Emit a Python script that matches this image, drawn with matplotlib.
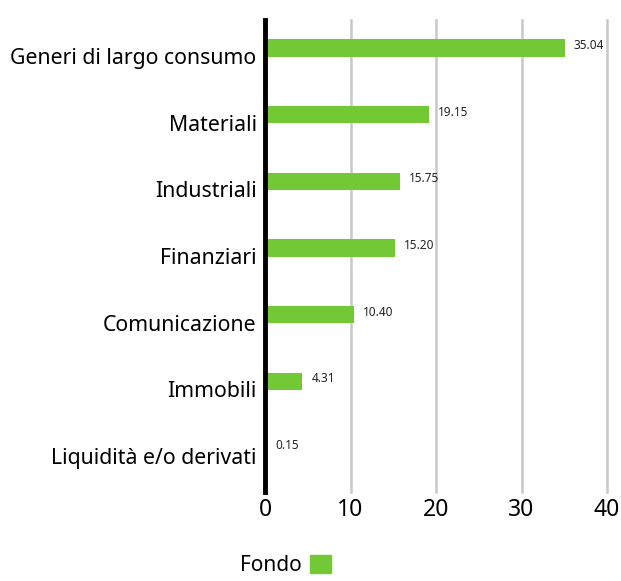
import matplotlib
matplotlib.use("Agg")
import matplotlib.pyplot as plt
from matplotlib.patches import Patch

categories = ["Generi di largo consumo", "Materiali", "Industriali", "Finanziari",
              "Comunicazione", "Immobili", "Liquidità e/o derivati"]
values = [35.04, 19.15, 15.75, 15.20, 10.40, 4.31, 0.15]
labels = ["35.04", "19.15", "15.75", "15.20", "10.40", "4.31", "0.15"]
xticks = [0, 10, 20, 30, 40]
series_name = "Fondo"
green = "#72C935"

plt.rcParams['font.family'] = ['Noto Sans', 'DejaVu Sans']

fig = plt.figure(figsize=(6.21, 5.81), dpi=100)
ax = fig.add_axes([265/621, 1-492/581, (607-265)/621, (492-20)/581])

pos = list(range(len(categories)))
ax.barh(pos, values, height=0.26, color=green, zorder=3)
for p, v, l in zip(pos, values, labels):
    ax.text(v + 1.1, p - 0.04, l, fontsize=8.5, va='center', ha='left', color='#222222')

ax.set_xlim(0, 40)
ax.set_ylim(6.66, -0.42)
ax.set_xticks(xticks)
ax.set_xticklabels([str(t) for t in xticks], fontsize=16.5)
ax.set_yticks(pos)
ax.set_yticklabels(categories, fontsize=15.3)
for lbl in ax.get_yticklabels():
    lbl.set_verticalalignment('top')
ax.tick_params(axis='y', length=0, pad=6)
ax.tick_params(axis='x', length=0, pad=4)
ax.xaxis.grid(True, color='#c8c8c8', linewidth=1.8, zorder=0)
for gl in ax.get_xgridlines():
    gl.set_clip_on(False)
for s in ['top', 'right', 'bottom']:
    ax.spines[s].set_visible(False)
ax.spines['left'].set_linewidth(3.5)
ax.spines['left'].set_color('black')
ax.spines['left'].set_zorder(4)

fig.legend(handles=[Patch(color=green, label=series_name)], loc='center',
           bbox_to_anchor=(0.46, 0.027), frameon=False, markerfirst=False,
           fontsize=15, handlelength=1.0, handleheight=1.0, handletextpad=0.4,
           borderpad=0.1)

fig.savefig("out.png", dpi=100)
